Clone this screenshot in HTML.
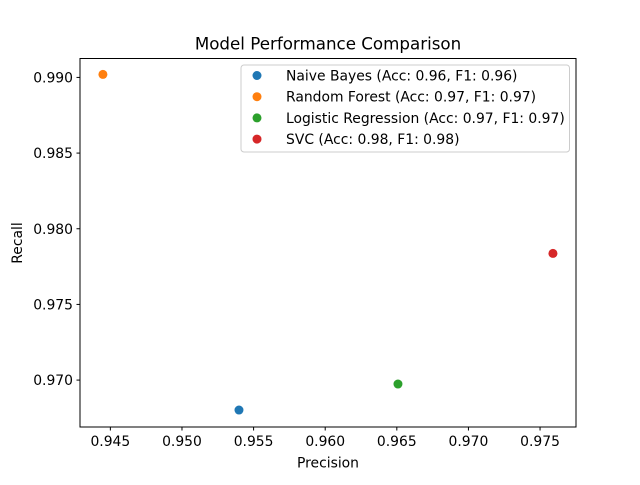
<!DOCTYPE html>
<html><head><meta charset="utf-8"><style>
html,body{margin:0;padding:0;background:#fff;}
svg text{font-family:"DejaVu Sans","Liberation Sans",sans-serif;}
</style></head><body>
<svg id="chart" width="640" height="480" viewBox="0 0 640 480" xmlns="http://www.w3.org/2000/svg">
<rect width="640" height="480" fill="#fff"/>
<text x="328" y="49.5" font-size="16.7" text-anchor="middle">Model Performance Comparison</text>
<g id="axes"></g>
<g id="marks"></g>
<rect x="80" y="58.5" width="496" height="368.5" fill="none" stroke="#000" stroke-width="1"/>
<text x="328" y="467.5" font-size="13.9" text-anchor="middle">Precision</text>
<text x="22" y="243" font-size="13.9" text-anchor="middle" transform="rotate(-90 22 243)">Recall</text>
<g id="legend">
<rect x="241" y="65" width="328.5" height="87" rx="3" fill="#fff" fill-opacity="0.8" stroke="#ccc"/>
</g>
</svg>
<script>
const models = ["Naive Bayes","Random Forest","Logistic Regression","SVC"];
const precision = [0.95398, 0.94448, 0.96508, 0.97590];
const recall = [0.96802, 0.99020, 0.96974, 0.97837];
const accuracy = ["0.96","0.97","0.97","0.98"];
const f1 = ["0.96","0.97","0.97","0.98"];
const colors = ["#1f77b4","#ff7f0e","#2ca02c","#d62728"];
const xTicks = [0.945,0.950,0.955,0.960,0.965,0.970,0.975];
const yTicks = [0.970,0.975,0.980,0.985,0.990];

const NS="http://www.w3.org/2000/svg";
const X0=80,X1=576,Y0=427,Y1=58.5;
const xmin=0.94288,xmax=0.97751,ymin=0.96690,ymax=0.99125;
function sx(v){return X0+(v-xmin)/(xmax-xmin)*(X1-X0);}
function sy(v){return Y0-(v-ymin)/(ymax-ymin)*(Y0-Y1);}
function mk(tag,attrs,parent){const e=document.createElementNS(NS,tag);for(const k in attrs)e.setAttribute(k,attrs[k]);parent.appendChild(e);return e;}
const axes=document.getElementById('axes'),marks=document.getElementById('marks'),legend=document.getElementById('legend');
xTicks.forEach(t=>{const x=sx(t);
 const l=mk('line',{x1:x,x2:x,y1:Y0,y2:Y0+3.5,stroke:'#000'},axes);
 
 
 const tx=mk('text',{x:x,y:Y0+19,'font-size':'13.9','text-anchor':'middle'},axes);tx.textContent=t.toFixed(3);
 
 
});
yTicks.forEach(t=>{const y=sy(t);
 const l=mk('line',{x1:X0-3.5,x2:X0,y1:y,y2:y,stroke:'#000'},axes);
 
 
 const tx=mk('text',{x:X0-7,y:y+5,'font-size':'13.9','text-anchor':'end'},axes);tx.textContent=t.toFixed(3);
 
 
});
models.forEach((m,i)=>{
 const c=mk('circle',{cx:sx(precision[i]),cy:sy(recall[i]),r:4.5,fill:colors[i]},marks);
 
 
 const ly=75.5+i*21.2;
 const lc=mk('circle',{cx:257,cy:ly,r:4.5,fill:colors[i]},legend);
 
 
 const lt=mk('text',{x:286,y:ly+5,'font-size':'13.9'},legend);
 lt.textContent=m+" (Acc: "+accuracy[i]+", F1: "+f1[i]+")";
 
 
});
</script>
</body></html>
